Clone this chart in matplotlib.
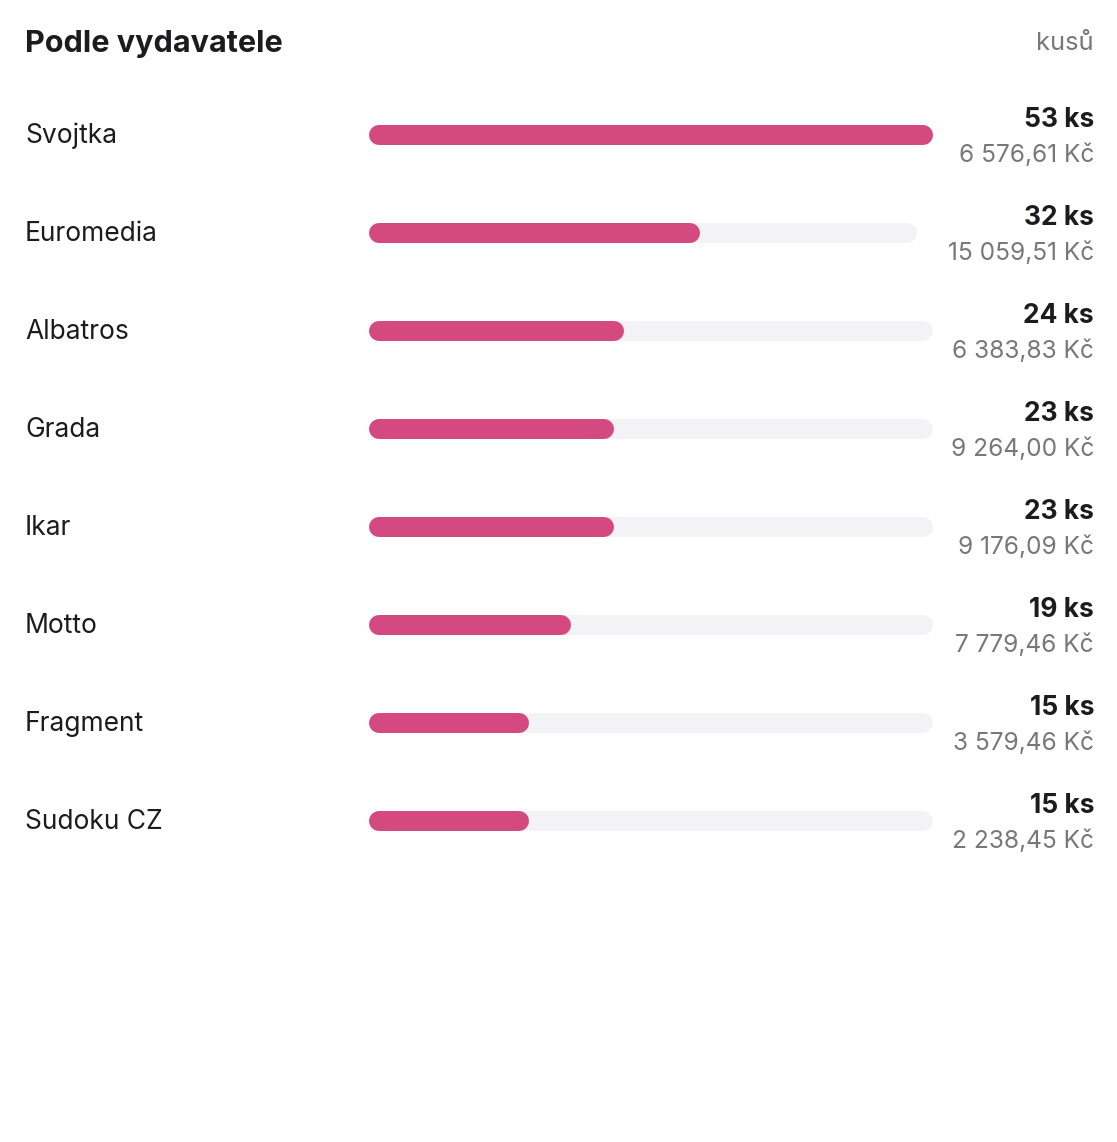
import re
import matplotlib
matplotlib.use("Agg")
import matplotlib.pyplot as plt

publishers = ["Svojtka", "Euromedia", "Albatros", "Grada", "Ikar", "Motto", "Fragment", "Sudoku CZ"]
pieces = [53, 32, 24, 23, 23, 19, 15, 15]
revenue = ["6 576,61 Kč", "15 059,51 Kč", "6 383,83 Kč", "9 264,00 Kč",
           "9 176,09 Kč", "7 779,46 Kč", "3 579,46 Kč", "2 238,45 Kč"]

W, H = 1117, 1142
plt.rcParams['font.family'] = ['Inter', 'DejaVu Sans']

fig = plt.figure(figsize=(W / 100, H / 100), dpi=100)
ax = fig.add_axes([0, 0, 1, 1])
ax.set_xlim(0, W)
ax.set_ylim(H, 0)
ax.axis("off")

pink = "#d44a80"
track = "#f3f3f5"
dark = "#1c1c1e"
grey = "#77777c"

ax.text(25, 44, "Podle vydavatele", fontsize=22, fontweight="bold", color=dark, va="center", ha="left")
ax.text(1094, 44, "kusů", fontsize=18.3, color=grey, va="center", ha="right")

fig.canvas.draw()
renderer = fig.canvas.get_renderer()


def tab_width(s, **kw):
    # width as if digits were tabular (all as wide as "0")
    t = ax.text(0, 0, re.sub(r"\d", "0", s), **kw)
    w = t.get_window_extent(renderer).width
    t.remove()
    return w


x0 = 369
right = 1094
top = 136
step = 98
bar_px = 20
lw = bar_px * 72 / 100
vmax = max(pieces)
gap = 17

for i, (name, n, kc) in enumerate(zip(publishers, pieces, revenue)):
    y = top + i * step
    ax.text(25, y, name, fontsize=19, color=dark, va="center", ha="left")
    ax.text(right, y - 16, f"{n} ks", fontsize=19, fontweight="bold", color=dark, va="center", ha="right")
    ax.text(right, y + 19, kc, fontsize=17.6, color=grey, va="center", ha="right")
    wtxt = max(tab_width(f"{n} ks", fontsize=19, fontweight="bold"), tab_width(kc, fontsize=17.6))
    x1 = right - wtxt - gap
    r = bar_px / 2
    yb = y - 1
    ax.plot([x0 + r, x1 - r], [yb, yb], color=track, lw=lw, solid_capstyle="round")
    xe = x0 + (x1 - x0) * n / vmax
    ax.plot([x0 + r, xe - r], [yb, yb], color=pink, lw=lw, solid_capstyle="round")

fig.savefig("out.png", dpi=100)
